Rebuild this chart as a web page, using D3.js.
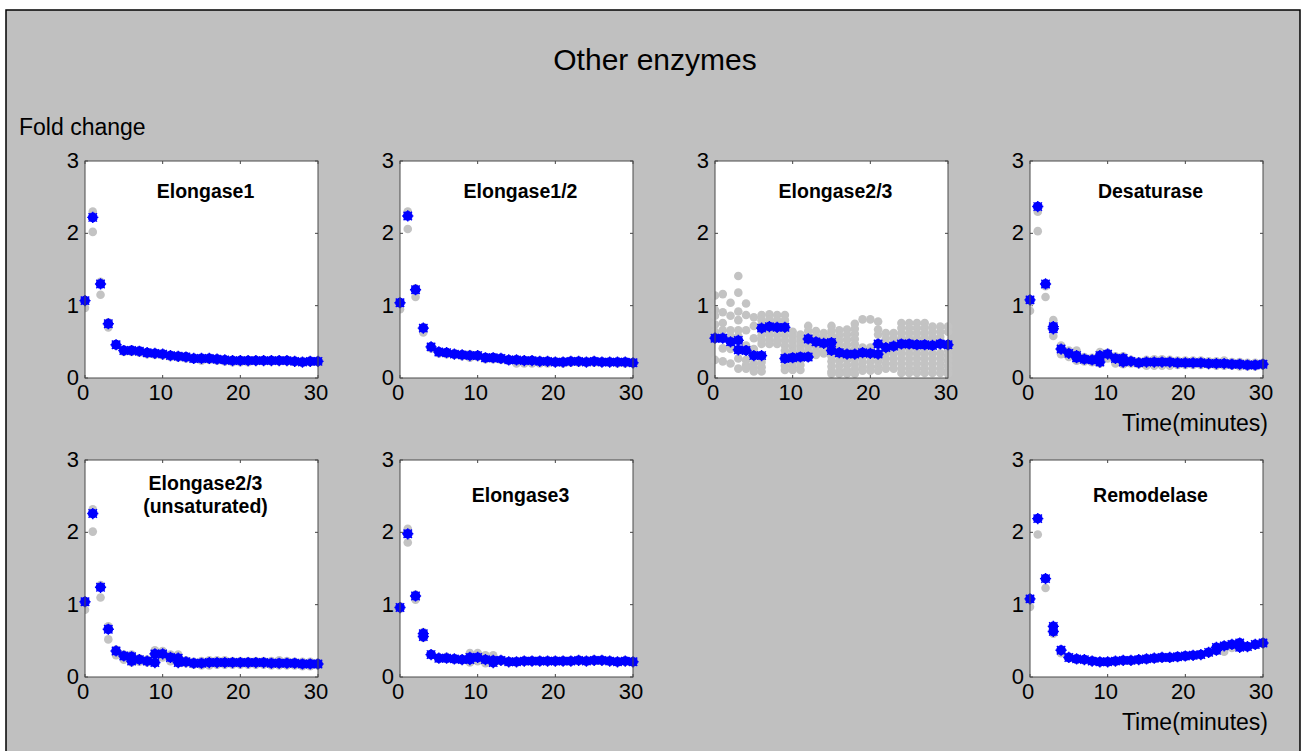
<!DOCTYPE html>
<html>
<head>
<meta charset="utf-8">
<script src="https://cdn.jsdelivr.net/npm/d3@7"></script>
<style>
  body { margin: 0; background: #fff; }
  svg { display: block; font-family: "Liberation Sans", Arial, sans-serif; }
</style>
</head>
<body>
<svg id="chart" width="1303" height="751"></svg>
<script>
// time axis (minutes)
const TIMES = [0,1,2,3,4,5,6,7,8,9,10,11,12,13,14,15,16,17,18,19,20,21,22,23,24,25,26,27,28,29,30];
const X_TICKS = [0, 10, 20, 30];
const Y_TICKS = [0, 1, 2, 3];

// Elongase1
const e1Mean = [1.07,2.22,1.30,0.75,0.46,0.38,0.38,0.37,0.35,0.34,0.33,0.31,0.30,0.29,0.27,0.27,0.27,0.26,0.25,0.24,0.24,0.24,0.24,0.24,0.24,0.24,0.24,0.23,0.22,0.23,0.23];
const e1Extra = [];
const e1Reps = [[0.97,1.05],[2.30,2.02],[1.33,1.15],[0.77,0.70],[0.47,0.45],[0.39,0.36],[0.39,0.36],[0.38,0.35],[0.36,0.33],[0.35,0.32],[0.34,0.31],[0.32,0.29],[0.31,0.28],[0.30,0.27],[0.28,0.26],[0.28,0.24],[0.28,0.25],[0.27,0.24],[0.26,0.23],[0.25,0.22],[0.25,0.22],[0.25,0.22],[0.25,0.23],[0.25,0.23],[0.25,0.23],[0.25,0.23],[0.25,0.23],[0.24,0.22],[0.23,0.21],[0.24,0.22],[0.24,0.22]];

// Elongase1/2
const e12Mean = [1.04,2.24,1.22,0.69,0.43,0.36,0.35,0.33,0.32,0.31,0.31,0.28,0.28,0.27,0.25,0.25,0.24,0.24,0.23,0.23,0.22,0.22,0.23,0.23,0.22,0.23,0.22,0.22,0.22,0.22,0.21];
const e12Extra = [];
const e12Reps = [[0.95,1.05],[2.30,2.06],[1.24,1.12],[0.70,0.63],[0.44,0.41],[0.37,0.34],[0.36,0.33],[0.34,0.32],[0.33,0.30],[0.33,0.28],[0.32,0.29],[0.29,0.26],[0.29,0.26],[0.28,0.25],[0.26,0.24],[0.26,0.20],[0.25,0.20],[0.25,0.20],[0.24,0.20],[0.24,0.20],[0.23,0.21],[0.23,0.20],[0.24,0.21],[0.24,0.21],[0.23,0.21],[0.24,0.21],[0.23,0.21],[0.23,0.21],[0.23,0.20],[0.23,0.20],[0.22,0.20]];

// Elongase2/3
const e23Mean = [0.55,0.55,0.50,0.52,0.38,0.31,0.31,0.71,0.70,0.70,0.28,0.29,0.29,0.50,0.48,0.49,0.35,0.33,0.33,0.35,0.34,0.33,0.42,0.44,0.47,0.47,0.46,0.46,0.45,0.47,0.46];
const e23Extra = [[3,0.39],[6,0.69],[9,0.27],[12,0.54],[15,0.38],[21,0.47]];
const e23Reps = [
  [1.14,0.94,0.86,0.74,0.64,0.57,0.25],
  [1.16,0.91,0.76,0.66,0.57,0.41,0.23],
  [1.04,0.86,0.66,0.58,0.40,0.20],
  [1.41,1.18,0.92,0.80,0.66,0.58,0.39,0.27,0.13],
  [1.03,0.87,0.66,0.45,0.25,0.18,0.13],
  [0.84,0.72,0.55,0.40,0.20,0.14,0.09],
  [0.87,0.80,0.73,0.66,0.59,0.52,0.47,0.29,0.22,0.15,0.09],
  [0.88,0.81,0.74,0.67,0.60,0.53,0.47],
  [0.87,0.80,0.73,0.66,0.59,0.52,0.47],
  [0.87,0.80,0.73,0.66,0.59,0.52,0.45,0.38,0.31,0.24,0.17,0.11],
  [0.64,0.57,0.50,0.43,0.36,0.29,0.22,0.15,0.11],
  [0.60,0.53,0.46,0.39,0.32,0.25,0.18,0.11],
  [0.72,0.65,0.58,0.51,0.44,0.37,0.30],
  [0.65,0.58,0.51,0.44,0.37,0.32],
  [0.62,0.55,0.48,0.41,0.34],
  [0.72,0.65,0.58,0.51,0.44,0.37,0.30,0.23,0.16,0.09,0.06],
  [0.66,0.59,0.52,0.45,0.38,0.31,0.24,0.17,0.10,0.06],
  [0.67,0.60,0.53,0.46,0.39,0.32,0.25,0.18,0.11,0.06],
  [0.75,0.68,0.61,0.54,0.47,0.40,0.33,0.26,0.19,0.12,0.06],
  [0.81,0.42,0.36,0.29,0.22,0.15,0.10],
  [0.81,0.42,0.36,0.29,0.22,0.15,0.10],
  [0.78,0.67,0.60,0.30,0.23,0.16,0.10],
  [0.62,0.55,0.48,0.41,0.34,0.27,0.20,0.13],
  [0.62,0.55,0.48,0.41,0.34,0.27,0.20,0.13],
  [0.76,0.69,0.62,0.55,0.48,0.41,0.34,0.27,0.20,0.13,0.07],
  [0.76,0.69,0.62,0.55,0.48,0.41,0.34,0.27,0.20,0.13,0.07],
  [0.76,0.69,0.62,0.55,0.48,0.41,0.34,0.27,0.20,0.13,0.07],
  [0.76,0.69,0.62,0.55,0.48,0.41,0.34,0.27,0.20,0.13,0.07],
  [0.71,0.64,0.57,0.50,0.34,0.27,0.20,0.13,0.07],
  [0.71,0.64,0.57,0.50,0.34,0.27,0.20,0.13,0.07],
  [0.71,0.64,0.38,0.31,0.24,0.17,0.10,0.06]
];

// Desaturase
const desMean = [1.08,2.37,1.30,0.71,0.40,0.34,0.31,0.26,0.25,0.31,0.33,0.27,0.27,0.23,0.21,0.22,0.22,0.22,0.22,0.21,0.21,0.21,0.21,0.20,0.20,0.20,0.19,0.19,0.18,0.18,0.19];
const desExtra = [[3,0.68],[6,0.28],[9,0.22],[12,0.22]];
const desReps = [[0.93,1.05],[2.30,2.03],[1.27,1.12],[0.80,0.58],[0.45,0.33],[0.38,0.29],[0.38,0.24],[0.29,0.23],[0.28,0.22],[0.36,0.20],[0.35,0.27],[0.30,0.20],[0.30,0.19],[0.25,0.20],[0.23,0.19],[0.25,0.17],[0.26,0.17],[0.26,0.17],[0.25,0.17],[0.24,0.18],[0.24,0.18],[0.24,0.18],[0.24,0.18],[0.23,0.18],[0.23,0.17],[0.24,0.17],[0.22,0.17],[0.22,0.16],[0.21,0.16],[0.21,0.16],[0.21,0.17]];

// Elongase2/3 (unsaturated)
const e23uMean = [1.04,2.26,1.24,0.66,0.36,0.29,0.28,0.24,0.22,0.32,0.32,0.27,0.26,0.21,0.19,0.19,0.20,0.20,0.20,0.20,0.20,0.20,0.20,0.20,0.19,0.19,0.19,0.19,0.18,0.18,0.18];
const e23uExtra = [[6,0.22],[9,0.20],[12,0.20]];
const e23uReps = [[0.93,1.05],[2.32,2.01],[1.27,1.10],[0.70,0.52],[0.38,0.30],[0.31,0.24],[0.31,0.20],[0.26,0.21],[0.24,0.20],[0.37,0.20],[0.36,0.27],[0.31,0.22],[0.31,0.19],[0.23,0.19],[0.21,0.17],[0.22,0.16],[0.23,0.16],[0.23,0.17],[0.23,0.17],[0.22,0.17],[0.22,0.17],[0.22,0.17],[0.22,0.17],[0.22,0.17],[0.22,0.16],[0.23,0.16],[0.22,0.16],[0.21,0.16],[0.21,0.15],[0.21,0.15],[0.20,0.16]];

// Elongase3
const e3Mean = [0.96,1.98,1.12,0.60,0.31,0.26,0.26,0.25,0.24,0.24,0.27,0.24,0.23,0.23,0.21,0.21,0.22,0.22,0.22,0.22,0.22,0.22,0.22,0.23,0.22,0.23,0.23,0.22,0.21,0.22,0.21];
const e3Extra = [[3,0.56],[9,0.27],[12,0.20]];
const e3Reps = [[0.98,0.94],[2.05,1.86],[1.14,1.07],[0.62,0.54],[0.32,0.30],[0.27,0.25],[0.28,0.25],[0.26,0.24],[0.25,0.23],[0.33,0.20],[0.33,0.22],[0.30,0.19],[0.30,0.19],[0.24,0.22],[0.22,0.20],[0.22,0.20],[0.23,0.21],[0.23,0.21],[0.23,0.21],[0.23,0.21],[0.23,0.21],[0.23,0.21],[0.23,0.21],[0.24,0.22],[0.23,0.21],[0.24,0.22],[0.24,0.22],[0.23,0.21],[0.22,0.20],[0.23,0.21],[0.22,0.20]];

// Remodelase
const remMean = [1.08,2.19,1.36,0.70,0.37,0.27,0.25,0.24,0.22,0.21,0.21,0.22,0.23,0.23,0.24,0.25,0.26,0.27,0.27,0.28,0.29,0.30,0.31,0.34,0.41,0.43,0.45,0.47,0.42,0.45,0.47];
const remExtra = [[3,0.63],[24,0.37],[27,0.41]];
const remReps = [[0.97,1.08],[1.97,2.19],[1.23,1.36],[0.60,0.70],[0.33,0.37],[0.27,0.26],[0.25,0.24],[0.24,0.23],[0.23,0.22],[0.21,0.20],[0.21,0.20],[0.22,0.21],[0.23,0.22],[0.23,0.22],[0.24,0.23],[0.25,0.24],[0.26,0.25],[0.27,0.26],[0.27,0.26],[0.28,0.27],[0.29,0.28],[0.30,0.29],[0.31,0.30],[0.34,0.33],[0.38,0.36],[0.40,0.35],[0.42,0.40],[0.45,0.41],[0.42,0.41],[0.45,0.44],[0.47,0.46]];

const panels = [
  { title: ["Elongase1"], row: 0, col: 0, mean: e1Mean, extra: e1Extra, reps: e1Reps },
  { title: ["Elongase1/2"], row: 0, col: 1, mean: e12Mean, extra: e12Extra, reps: e12Reps },
  { title: ["Elongase2/3"], row: 0, col: 2, mean: e23Mean, extra: e23Extra, reps: e23Reps },
  { title: ["Desaturase"], row: 0, col: 3, mean: desMean, extra: desExtra, reps: desReps, xlabel: true },
  { title: ["Elongase2/3", "(unsaturated)"], row: 1, col: 0, mean: e23uMean, extra: e23uExtra, reps: e23uReps },
  { title: ["Elongase3"], row: 1, col: 1, mean: e3Mean, extra: e3Extra, reps: e3Reps },
  { title: ["Remodelase"], row: 1, col: 3, mean: remMean, extra: remExtra, reps: remReps, xlabel: true }
];

const svg = d3.select("#chart");
const BG = "#c0c0c0";
const INK = "#000";

// figure frame
svg.append("rect")
  .attr("x", 6).attr("y", 10)
  .attr("width", 1294).attr("height", 760)
  .attr("fill", BG).attr("stroke", "#000").attr("stroke-width", 1.5);

svg.append("text")
  .attr("x", 655).attr("y", 70)
  .attr("text-anchor", "middle")
  .attr("font-size", 30)
  .attr("fill", INK)
  .text("Other enzymes");

svg.append("text")
  .attr("x", 19).attr("y", 135)
  .attr("font-size", 23)
  .attr("fill", INK)
  .text("Fold change");

const colLeft = [85, 400, 715, 1030];
const rowTop = [161, 460];
const W = 233, H = 217;

const starPath = "M-5.6,0H5.6M0,-5.6V5.6M-4.2,-4.2L4.2,4.2M-4.2,4.2L4.2,-4.2";

panels.forEach((p) => {
  const g = svg.append("g")
    .attr("transform", `translate(${colLeft[p.col]},${rowTop[p.row]})`);

  const x = d3.scaleLinear().domain([0, 30]).range([0, W]);
  const y = d3.scaleLinear().domain([0, 3]).range([H, 0]);

  g.append("rect")
    .attr("width", W).attr("height", H)
    .attr("fill", "#fff");

  // inward ticks on all four sides
  const tickLen = 3;
  const ticks = g.append("g").attr("stroke", "#444").attr("stroke-width", 1);
  Y_TICKS.forEach((v) => {
    ticks.append("line").attr("x1", 0).attr("x2", tickLen).attr("y1", y(v)).attr("y2", y(v));
    ticks.append("line").attr("x1", W).attr("x2", W - tickLen).attr("y1", y(v)).attr("y2", y(v));
  });
  X_TICKS.forEach((v) => {
    ticks.append("line").attr("y1", H).attr("y2", H - tickLen).attr("x1", x(v)).attr("x2", x(v));
    ticks.append("line").attr("y1", 0).attr("y2", tickLen).attr("x1", x(v)).attr("x2", x(v));
  });

  // replicate points (gray)
  const repPts = [];
  p.reps.forEach((vals, i) => vals.forEach((v) => repPts.push([TIMES[i], v])));
  g.append("g").selectAll("circle")
    .data(repPts)
    .join("circle")
    .attr("cx", (d) => x(d[0]))
    .attr("cy", (d) => y(d[1]))
    .attr("r", 4.3)
    .attr("fill", "#c3c3c3");

  // mean points (blue)
  const bluePts = p.mean.map((v, i) => [TIMES[i], v]).concat(p.extra);
  const blue = g.append("g").selectAll("g")
    .data(bluePts)
    .join("g")
    .attr("transform", (d) => `translate(${x(d[0])},${y(d[1])})`);
  blue.append("circle").attr("r", 4.9).attr("fill", "#0000ff");
  blue.append("path").attr("d", starPath)
    .attr("stroke", "#0000ff").attr("stroke-width", 1.4).attr("fill", "none");

  // axes box
  g.append("rect")
    .attr("width", W).attr("height", H)
    .attr("fill", "none")
    .attr("stroke", "#4a4a4a").attr("stroke-width", 1);

  // tick labels
  g.append("g").selectAll("text")
    .data(Y_TICKS)
    .join("text")
    .attr("x", -6)
    .attr("y", (d) => y(d) + 7)
    .attr("text-anchor", "end")
    .attr("font-size", 22)
    .attr("fill", INK)
    .text((d) => d);

  g.append("g").selectAll("text")
    .data(X_TICKS)
    .join("text")
    .attr("x", (d) => x(d) - 2)
    .attr("y", H + 22)
    .attr("text-anchor", "middle")
    .attr("font-size", 22)
    .attr("fill", INK)
    .text((d) => d);

  // panel title
  const baseY = p.title.length > 1 ? 30 : (p.row === 0 ? 37 : 42);
  p.title.forEach((line, k) => {
    g.append("text")
      .attr("x", W / 2 + 4)
      .attr("y", baseY + k * 23)
      .attr("text-anchor", "middle")
      .attr("font-size", 19.5)
      .attr("font-weight", "bold")
      .attr("fill", INK)
      .text(line);
  });

  if (p.xlabel) {
    g.append("text")
      .attr("x", W + 5)
      .attr("y", H + 53)
      .attr("text-anchor", "end")
      .attr("font-size", 23)
      .attr("fill", INK)
      .text("Time(minutes)");
  }
});
</script>
</body>
</html>
